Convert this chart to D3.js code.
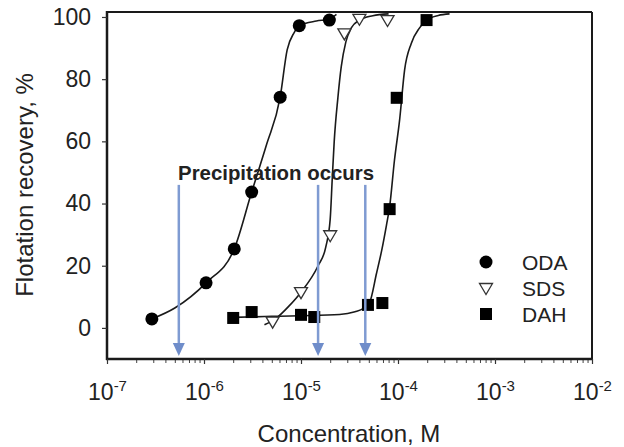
<!DOCTYPE html>
<html>
<head>
<meta charset="utf-8">
<script src="https://cdn.jsdelivr.net/npm/d3@7"></script>
<style>
  html, body { margin: 0; padding: 0; background: #fff; }
  svg { display: block; }
  text { font-family: "Liberation Sans", Arial, sans-serif; fill: #222; }
</style>
</head>
<body>
<svg id="chart" width="624" height="447"></svg>
<script>
// ---------- data ----------
const xTickValues = [1e-7, 1e-6, 1e-5, 1e-4, 1e-3, 1e-2];
const xTickExponents = ["-7", "-6", "-5", "-4", "-3", "-2"];
const yTickValues = [0, 20, 40, 60, 80, 100];

const odaX = [2.9e-7, 1.05e-6, 2.05e-6, 3.1e-6, 6.1e-6, 9.6e-6, 1.96e-5];
const odaY = [2.9, 14.5, 25.4, 43.7, 74.2, 97.2, 99.0];

const sdsX = [5.1e-6, 1.0e-5, 2.0e-5, 2.8e-5, 4.0e-5, 7.8e-5];
const sdsY = [2.0, 11.5, 29.8, 94.7, 99.4, 99.0];

const dahX = [2.0e-6, 3.1e-6, 1.0e-5, 1.37e-5, 4.9e-5, 6.9e-5, 8.2e-5, 9.7e-5, 1.97e-4];
const dahY = [3.2, 5.1, 4.2, 3.5, 7.4, 8.0, 38.2, 74.0, 99.0];

// fitted curves
const odaCurveX = [2.9e-7, 5.0e-7, 1.05e-6, 2.05e-6, 3.1e-6, 4.4e-6, 6.1e-6, 7.2e-6, 8.5e-6, 9.6e-6, 1.44e-5, 1.96e-5, 2.32e-5];
const odaCurveY = [2.9, 6.4, 14.5, 25.4, 43.7, 58.8, 74.2, 89.4, 95.0, 97.2, 98.7, 99.3, 100.8];

const sdsCurveX = [4.2e-6, 5.5e-6, 7.5e-6, 1.0e-5, 1.5e-5, 1.8e-5, 2.0e-5, 2.1e-5, 2.2e-5, 2.4e-5, 2.6e-5, 2.9e-5, 3.3e-5, 4.0e-5, 5.5e-5, 8.0e-5];
const sdsCurveY = [1.0, 3.0, 7.0, 11.5, 20.0, 26.0, 35.0, 48.0, 60.0, 74.0, 84.0, 92.0, 96.5, 99.0, 100.4, 101.0];

const dahCurveX = [2.0e-6, 5.0e-6, 1.0e-5, 2.5e-5, 3.6e-5, 4.4e-5, 5.1e-5, 6.0e-5, 6.8e-5, 7.6e-5, 8.2e-5, 9.2e-5, 1.04e-4, 1.17e-4, 1.37e-4, 1.67e-4, 1.96e-4, 2.6e-4, 3.4e-4];
const dahCurveY = [3.4, 3.7, 3.9, 4.3, 5.2, 6.3, 8.2, 17.5, 25.0, 33.0, 39.0, 54.0, 67.0, 83.0, 91.5, 96.5, 99.0, 100.5, 101.0];

const arrowX = [5.5e-7, 1.5e-5, 4.6e-5];
const arrowTop = 46;
const arrowBottom = -9;
const annotationText = "Precipitation occurs";
const annotationAt = [5.4e-7, 47.5];

const legendNames = ["ODA", "SDS", "DAH"];
const xTitle = "Concentration, M";
const yTitle = "Flotation recovery, %";

// ---------- layout ----------
const svg = d3.select("#chart");
const L = 107, R = 592, T = 12, B = 359;

const x = d3.scaleLog().domain([1e-7, 1e-2]).range([L, R]);
const y = d3.scaleLinear().domain([-10, 101.6]).range([B, T]);

// frame
svg.append("line").attr("x1", L).attr("x2", R).attr("y1", T).attr("y2", T)
  .attr("stroke", "#1a1a1a").attr("stroke-width", 2);
svg.append("line").attr("x1", R).attr("x2", R).attr("y1", T).attr("y2", B)
  .attr("stroke", "#1a1a1a").attr("stroke-width", 2);

// Y axis
const yAxis = d3.axisLeft(y).tickValues(yTickValues).tickSize(5).tickPadding(11)
  .tickFormat(d3.format("d"));
const gy = svg.append("g").attr("transform", `translate(${L},0)`).call(yAxis);
gy.select(".domain").attr("stroke", "#1a1a1a").attr("stroke-width", 2.5)
  .attr("d", `M0,${T - 1}V${B + 1}`);
gy.selectAll(".tick line").attr("stroke", "#333").attr("stroke-width", 1.2);
gy.selectAll(".tick text").attr("font-size", 23).attr("fill", "#222")
  .attr("font-family", "Liberation Sans, Arial, sans-serif");

// X axis
const minorTicks = [];
for (let d = -7; d < -2; d++) for (let k = 2; k <= 9; k++) minorTicks.push(k * Math.pow(10, d));
const xAxisMinor = d3.axisBottom(x).tickValues(minorTicks).tickSize(4).tickFormat("");
const gxm = svg.append("g").attr("transform", `translate(0,${B})`).call(xAxisMinor);
gxm.select(".domain").remove();
gxm.selectAll(".tick line").attr("stroke", "#444").attr("stroke-width", 1);

const xAxis = d3.axisBottom(x).tickValues(xTickValues).tickSize(5).tickFormat("");
const gx = svg.append("g").attr("transform", `translate(0,${B})`).call(xAxis);
gx.select(".domain").attr("stroke", "#1a1a1a").attr("stroke-width", 2.5)
  .attr("d", `M${L - 1},0H${R + 1}`);
gx.selectAll(".tick line").attr("stroke", "#333").attr("stroke-width", 1.2);
gx.selectAll(".tick").each(function(d, i) {
  const t = d3.select(this).append("text")
    .attr("y", 41).attr("text-anchor", "middle").attr("font-size", 23).attr("fill", "#222")
    .attr("font-family", "Liberation Sans, Arial, sans-serif");
  t.append("tspan").text("10");
  t.append("tspan").attr("font-size", 15).attr("dy", -9).text(xTickExponents[i]);
});

// titles
svg.append("text").attr("x", 349).attr("y", 442).attr("text-anchor", "middle")
  .attr("font-size", 24).text(xTitle);
svg.append("text").attr("transform", "translate(33,185) rotate(-90)")
  .attr("text-anchor", "middle").attr("font-size", 24).text(yTitle);

// curves
const line = d3.line().x(d => x(d[0])).y(d => y(d[1])).curve(d3.curveMonotoneX);
const curves = [
  d3.zip(odaCurveX, odaCurveY),
  d3.zip(sdsCurveX, sdsCurveY),
  d3.zip(dahCurveX, dahCurveY)
];
svg.append("g").selectAll("path").data(curves).join("path")
  .attr("d", line).attr("fill", "none").attr("stroke", "#1a1a1a").attr("stroke-width", 1.6);

// markers
const circle = (g, cx, cy) => g.append("circle").attr("cx", cx).attr("cy", cy).attr("r", 6.5).attr("fill", "#000");
const square = (g, cx, cy) => g.append("rect").attr("x", cx - 6).attr("y", cy - 6)
  .attr("width", 12).attr("height", 12).attr("fill", "#000");
const tri = (g, cx, cy) => g.append("path")
  .attr("d", `M${cx - 6.5},${cy - 4.5}L${cx + 6.5},${cy - 4.5}L${cx},${cy + 6.5}Z`)
  .attr("fill", "#fff").attr("stroke", "#333").attr("stroke-width", 1.3);

const gm = svg.append("g");
d3.zip(odaX, odaY).forEach(d => circle(gm, x(d[0]), y(d[1])));
d3.zip(sdsX, sdsY).forEach(d => tri(gm, x(d[0]), y(d[1])));
d3.zip(dahX, dahY).forEach(d => square(gm, x(d[0]), y(d[1])));

// arrows
const ga = svg.append("g");
arrowX.forEach(v => {
  const ax = x(v), y0 = y(arrowTop), y1 = y(arrowBottom);
  ga.append("line").attr("x1", ax).attr("x2", ax).attr("y1", y0).attr("y2", y1 - 10)
    .attr("stroke", "#7f9bd2").attr("stroke-width", 2.5);
  ga.append("path").attr("d", `M${ax - 6},${y1 - 13}L${ax + 6},${y1 - 13}L${ax},${y1}Z`)
    .attr("fill", "#6f8dca");
});

// annotation
svg.append("text").attr("x", x(annotationAt[0])).attr("y", y(annotationAt[1]))
  .attr("font-family", "Lato, 'Open Sans', sans-serif").attr("font-weight", 600)
  .attr("font-size", 21).attr("textLength", 196).attr("lengthAdjust", "spacingAndGlyphs")
  .attr("fill", "#1a1a1a").text(annotationText);

// legend
const lg = svg.append("g");
const legY = [262, 288, 314];
circle(lg, 486, legY[0]);
tri(lg, 486, legY[1]);
square(lg, 486, legY[2]);
legendNames.forEach((n, i) => {
  lg.append("text").attr("x", 522).attr("y", legY[i]).attr("dy", "0.36em")
    .attr("font-size", 21).text(n);
});
</script>
</body>
</html>
